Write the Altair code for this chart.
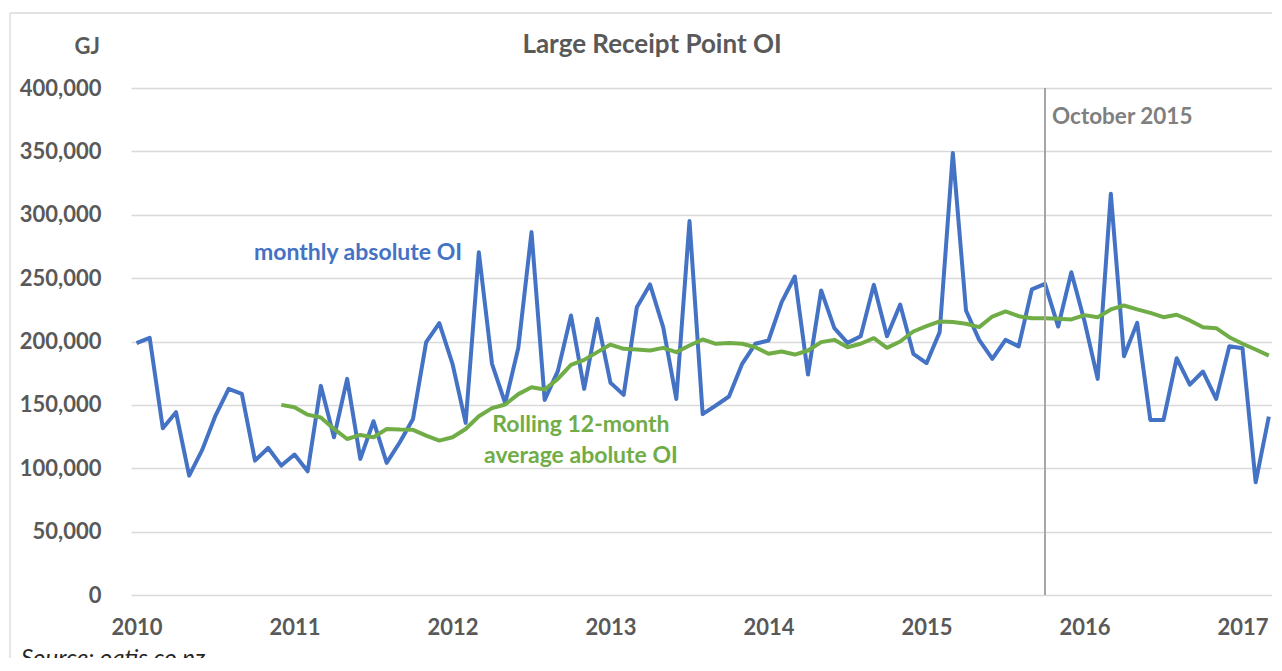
import altair as alt
import pandas as pd

# ---- data (GJ) ----
start_year = 2010  # first month = Jan 2010, monthly steps
monthly_oi = [
    198700, 202900, 131600, 144200, 94200, 114700, 141600, 162600, 158700, 106000, 116000, 102100,
    110800, 97600, 165000, 124500, 170500, 107400, 137100, 104200, 120500, 138900, 199500, 214500,
    182400, 135800, 270500, 182400, 151300, 195000, 286300, 153900, 176600, 220500, 162600, 217900,
    167400, 157900, 227100, 245000, 211300, 154700, 295000, 142700, 149500, 156600, 182400, 198200,
    200800, 231100, 251300, 173900, 240300, 210500, 198900, 204200, 244700, 204200, 229200, 190300,
    182900, 207400, 348700, 224500, 201300, 186300, 201300, 196100, 241100, 245500, 211800, 254700,
    216000, 170500, 316600, 188400, 214700, 138100, 138100, 186800, 166000, 176300, 154700, 196300,
    194700, 88900, 140800,
]
rolling_start_index = 11  # Dec 2010
rolling_avg = [
    150000,
    148100, 142300, 140000, 131000, 123100, 126300, 124500, 131000, 130500, 130300, 125800, 121800,
    124500, 131000, 141000, 147400, 150300, 158500, 163900, 162100, 170500, 181600, 185500, 191600,
    197600, 194200, 193700, 192900, 195000, 191600, 196800, 201600, 198200, 198900, 198200, 195500,
    190300, 192100, 189700, 192900, 199500, 201300, 195500, 198200, 202600, 195000, 200000, 207900,
    212100, 215800, 215300, 214000, 211300, 219700, 223700, 220000, 218400, 218400, 217900, 217400,
    220800, 219200, 225300, 228400, 225300, 222600, 219200, 221100, 216600, 211300, 210500, 203400,
    198200, 193700, 188900,
]
year_ticks = [2010, 2011, 2012, 2013, 2014, 2015, 2016, 2017]
y_ticks = [0, 50000, 100000, 150000, 200000, 250000, 300000, 350000, 400000]
event_time = 2015 + 9 / 12  # October 2015

monthly_df = pd.DataFrame({
    "t": [start_year + i / 12 for i in range(len(monthly_oi))],
    "value": monthly_oi,
})
rolling_df = pd.DataFrame({
    "t": [start_year + (rolling_start_index + j) / 12 for j in range(len(rolling_avg))],
    "value": rolling_avg,
})
one = pd.DataFrame({"k": [0]})

FONT = "Lato"
GREY = "#595959"
BLUE = "#4472C4"
GREEN = "#70AD47"
W, H = 1141, 507

x_scale = alt.Scale(domain=[2009.9652, 2017.1867], nice=False, zero=False)
y_scale = alt.Scale(domain=[0, 400000], nice=False)

x_axis = alt.Axis(values=year_ticks, format="d", grid=False, ticks=False, domain=False,
                  labelPadding=22, labelFont=FONT, labelFontSize=22, labelFontWeight="bold",
                  labelColor=GREY, title=None)
y_axis = alt.Axis(values=y_ticks, format=",.0f", grid=True, gridColor="#D9D9D9", gridWidth=1.3,
                  ticks=False, domain=False, labelPadding=30, labelFont=FONT, labelFontSize=22,
                  labelFontWeight="bold", labelColor=GREY, title=None)

base_x = alt.X("t:Q", scale=x_scale, axis=x_axis)
base_y = alt.Y("value:Q", scale=y_scale, axis=y_axis)

blue_line = alt.Chart(monthly_df).mark_line(color=BLUE, strokeWidth=4, strokeJoin="round").encode(
    x=base_x, y=base_y)
green_line = alt.Chart(rolling_df).mark_line(color=GREEN, strokeWidth=4, strokeJoin="round").encode(
    x="t:Q", y="value:Q")

event_rule = alt.Chart(one).mark_rule(color="#A6A6A6", strokeWidth=2).encode(
    x=alt.datum(event_time))

def label(color, align="center", size=23, **kw):
    return alt.Chart(one).mark_text(align=align, color=color, font=FONT, fontWeight="bold",
                                    fontSize=size, baseline="alphabetic", **kw)

event_text = label("#7F7F7F", align="left", size=22.5, dx=7).encode(
    x=alt.datum(event_time), y=alt.datum(371600), text=alt.value("October 2015"))

monthly_label = label(BLUE).encode(
    x=alt.datum(2011.402), y=alt.datum(264300), text=alt.value("monthly absolute OI"))
rolling_label1 = label(GREEN).encode(
    x=alt.datum(2012.813), y=alt.datum(128800), text=alt.value("Rolling 12-month"))
rolling_label2 = label(GREEN).encode(
    x=alt.datum(2012.813), y=alt.datum(103900), text=alt.value("average abolute OI"))

title_text = label(GREY, size=26).encode(
    x=alt.value(521), y=alt.value(-35), text=alt.value("Large Receipt Point OI"))
unit_text = label(GREY, align="right", size=22).encode(
    x=alt.value(-31), y=alt.value(-34), text=alt.value("GJ"))
source_text = alt.Chart(one).mark_text(align="left", font=FONT, fontSize=24, fontStyle="italic",
                                       baseline="alphabetic", color="#262626").encode(
    x=alt.value(-110), y=alt.value(578), text=alt.value("Source:  oatis.co.nz"))

# chart frame (top and left edges; the others lie outside the picture)
frame_top = alt.Chart(one).mark_rule(color="#D9D9D9", strokeWidth=1.3).encode(
    x=alt.value(-121), x2=alt.value(1300), y=alt.value(-75))
frame_left = alt.Chart(one).mark_rule(color="#D9D9D9", strokeWidth=1.3).encode(
    x=alt.value(-121), y=alt.value(-75), y2=alt.value(800))

chart = alt.layer(
    frame_top, frame_left, blue_line, green_line, event_rule, event_text,
    monthly_label, rolling_label1, rolling_label2, title_text, unit_text, source_text,
).properties(
    width=W, height=H,
    autosize=alt.AutoSizeParams(type="none"),
    padding={"left": 123, "top": 80, "right": 0, "bottom": 63},
    background="white",
).configure_view(stroke=None)

chart.save("out.html", embed_options={"renderer": "svg", "actions": False})
